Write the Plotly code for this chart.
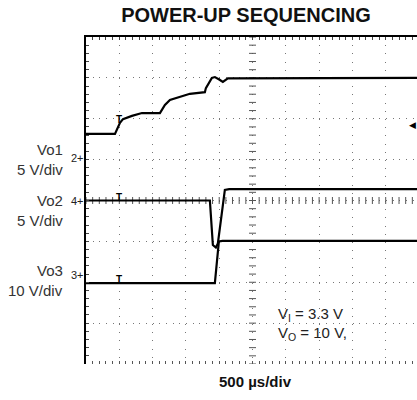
import numpy as np
import plotly.graph_objects as go

# ---- data (oscilloscope divisions: x = time div (500 us/div), y = vertical div) ----
vo1_x = [0.0, 0.87, 1.02, 1.11, 1.38, 1.68, 2.22, 2.37, 2.52, 2.82, 3.12, 3.57, 3.60, 3.78, 3.87, 4.0, 4.11, 4.26, 9.94]
vo1_y = [5.63, 5.63, 5.90, 5.99, 6.07, 6.14, 6.14, 6.34, 6.46, 6.53, 6.61, 6.65, 6.75, 7.00, 7.02, 6.96, 6.90, 6.99, 7.0]

vo2_x = [0.0, 3.72, 3.81, 3.90, 3.96, 4.17, 4.30, 9.94]
vo2_y = [4.0, 4.0, 2.91, 2.85, 2.95, 4.26, 4.28, 4.28]

vo3_x = [0.0, 3.87, 3.99, 4.10, 9.94]
vo3_y = [1.98, 1.98, 3.00, 3.01, 3.01]

channel_labels = ["Vo1", "5 V/div", "Vo2", "5 V/div", "Vo3", "10 V/div"]
channel_label_y = [5.24, 4.75, 4.01, 3.52, 2.03, 1.54]
ground_marks = ["2+", "4+", "3+"]
ground_y = [5.05, 4.0, 1.98]
trigger_x = 1.0
trigger_y = [5.98, 4.08, 2.07]

XMAX = 9.94
YMAX = 8

fig = go.Figure()

# centre graticule ticks
cx = np.arange(0, XMAX, 0.2)
cy = np.arange(0, YMAX + 0.01, 0.2)
fig.add_trace(go.Scatter(x=cx, y=[4] * len(cx), mode="markers", hoverinfo="skip",
                         marker=dict(symbol="line-ns-open", size=5, color="#555",
                                     line=dict(width=1, color="#555"))))
fig.add_trace(go.Scatter(x=[5] * len(cy), y=cy, mode="markers", hoverinfo="skip",
                         marker=dict(symbol="line-ew-open", size=5, color="#555",
                                     line=dict(width=1, color="#555"))))

for name, xs, ys in [("Vo1", vo1_x, vo1_y), ("Vo2", vo2_x, vo2_y), ("Vo3", vo3_x, vo3_y)]:
    fig.add_trace(go.Scatter(x=xs, y=ys, mode="lines", name=name,
                             line=dict(color="black", width=2.2)))

# bottom ticks axis
fig.add_trace(go.Scatter(x=[0], y=[0], xaxis="x2", mode="markers", marker=dict(opacity=0), hoverinfo="skip"))

PW = 331.0  # plot width px


def px_to_paper_x(px):
    return (px - 86) / PW


ann = []
for t, y in zip(channel_labels, channel_label_y):
    ann.append(dict(x=px_to_paper_x(65), y=y / YMAX, xref="paper", yref="paper", text=t, showarrow=False,
                    xanchor="right", font=dict(size=15, color="#333")))
for t, y in zip(ground_marks, ground_y):
    ann.append(dict(x=px_to_paper_x(86), y=y / YMAX, xref="paper", yref="paper", text=t, showarrow=False,
                    xanchor="right", font=dict(size=11, color="#222")))
for y in trigger_y:
    ann.append(dict(x=trigger_x, y=y, xref="x", yref="y", text="<b>T</b>", showarrow=False,
                    font=dict(size=10, color="#000")))
ann.append(dict(x=9.8, y=5.85, xref="x", yref="y", text="◀", showarrow=False,
                font=dict(size=9, color="#000")))
ann.append(dict(x=5.7, y=1.2, xref="x", yref="y", text="V<sub>I</sub> = 3.3 V", showarrow=False,
                xanchor="left", font=dict(size=15, color="#222")))
ann.append(dict(x=5.7, y=0.75, xref="x", yref="y", text="V<sub>O</sub> = 10 V,", showarrow=False,
                xanchor="left", font=dict(size=15, color="#222")))
ann.append(dict(x=px_to_paper_x(255), y=-0.087, xref="paper", yref="paper", text="<b>500 µs/div</b>",
                showarrow=False, font=dict(size=15, color="#111")))

fig.update_layout(
    width=417, height=400,
    margin=dict(l=86, r=0, t=37, b=36),
    paper_bgcolor="white", plot_bgcolor="white",
    showlegend=False,
    font=dict(family="Liberation Sans, Arial, sans-serif"),
    title=dict(text="<b>POWER-UP SEQUENCING</b>", x=246 / 417, xanchor="center", y=0.963, yanchor="middle",
               font=dict(size=20, color="#111")),
    xaxis=dict(range=[0, XMAX], dtick=1, side="top", showticklabels=False,
               showgrid=True, gridcolor="#777", gridwidth=1, griddash="1px,7.2px",
               showline=True, linecolor="black", linewidth=1.5,
               ticks="inside", ticklen=3, tickcolor="#444",
               minor=dict(dtick=0.2, ticks="inside", ticklen=3, tickcolor="#444"),
               zeroline=False, fixedrange=True),
    xaxis2=dict(range=[0, XMAX], overlaying="x", side="bottom", dtick=1, showticklabels=False,
                showgrid=False, showline=False, ticks="inside", ticklen=3, tickcolor="#555",
                minor=dict(dtick=0.2, ticks="inside", ticklen=3, tickcolor="#555"), zeroline=False),
    yaxis=dict(range=[0, YMAX], dtick=1, showticklabels=False,
               showgrid=True, gridcolor="#777", gridwidth=1, griddash="1px,5.67px",
               showline=True, linecolor="black", linewidth=1.5,
               ticks="inside", ticklen=3, tickcolor="#444",
               minor=dict(dtick=0.2, ticks="inside", ticklen=3, tickcolor="#444"),
               zeroline=False, fixedrange=True),
    annotations=ann,
)

fig.write_html("out.html", config={"displayModeBar": False},
               post_script="document.body.style.margin='0';document.body.style.padding='0';")
